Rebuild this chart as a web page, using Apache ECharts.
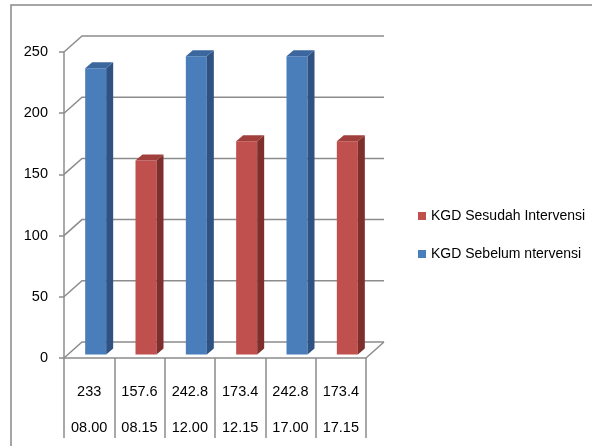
<!DOCTYPE html>
<html>
<head>
<meta charset="utf-8">
<script src="https://cdn.jsdelivr.net/npm/echarts@6/dist/echarts.min.js"></script>
<style>
  html, body { margin: 0; padding: 0; background: #fff; }
  #chart { width: 592px; height: 446px; }
</style>
</head>
<body>
<div id="chart"></div>
<script>
var times = ['08.00', '08.15', '12.00', '12.15', '17.00', '17.15'];
var sebelum = [233, null, 242.8, null, 242.8, null];
var sesudah = [null, 157.6, null, 173.4, null, 173.4];
var yTicks = [0, 50, 100, 150, 200, 250];

var FONT = '"Liberation Sans", Arial, sans-serif';
var DX = 18, DY = -16; // wall depth

var dom = document.getElementById('chart');
var myChart = echarts.init(dom);

function bar3d(front, side, top) {
    return function (params, api) {
        var v = api.value(1);
        if (v == null || isNaN(v)) return;
        var base = api.coord([api.value(0), 0]);
        var tp = api.coord([api.value(0), v]);
        var x0 = base[0] - 4, w = 21, bx = 7, by = -6;
        var yb = base[1] - 3.5, yt = tp[1] - 4.5;
        return {
            type: 'group',
            children: [
                {type: 'rect', shape: {x: x0, y: yt, width: w, height: yb - yt}, style: {fill: front}},
                {type: 'polygon', shape: {points: [[x0 + w, yt], [x0 + w + bx, yt + by], [x0 + w + bx, yb + by], [x0 + w, yb]]}, style: {fill: side}},
                {type: 'polygon', shape: {points: [[x0, yt], [x0 + bx, yt + by], [x0 + w + bx, yt + by], [x0 + w, yt]]}, style: {fill: top}}
            ]
        };
    };
}

function wall(params, api) {
    var cs = params.coordSys;
    var y = api.coord([0, api.value(0)])[1];
    var children = [{
        type: 'polyline',
        shape: {points: [[cs.x, y], [cs.x + DX, y + DY], [cs.x + cs.width + DX, y + DY]]},
        style: {stroke: '#8c8c8c', lineWidth: 1.5, fill: null}
    }];
    if (api.value(0) === 0) {
        children.push({
            type: 'line',
            shape: {x1: cs.x + cs.width, y1: y, x2: cs.x + cs.width + DX, y2: y + DY},
            style: {stroke: '#8c8c8c', lineWidth: 1.5}
        });
    }
    return {type: 'group', children: children};
}

var option = {
    backgroundColor: '#fff',
    animation: false,
    textStyle: {fontFamily: FONT},
    graphic: [{
        type: 'rect', z: 0, silent: true,
        shape: {x: 11, y: 5, width: 700, height: 600},
        style: {fill: null, stroke: '#888', lineWidth: 1.5}
    }],
    legend: {
        orient: 'vertical',
        left: 413,
        top: 202,
        icon: 'rect',
        itemWidth: 8,
        itemHeight: 8,
        itemGap: 20,
        textStyle: {fontFamily: FONT, fontSize: 14, color: '#000', lineHeight: 18},
        data: ['KGD Sesudah Intervensi', 'KGD Sebelum ntervensi']
    },
    grid: {left: 64, right: 226, top: 52, bottom: 88},
    xAxis: {
        type: 'category',
        data: times,
        boundaryGap: true,
        axisLine: {show: true, lineStyle: {color: '#8c8c8c', width: 1.5}},
        axisTick: {show: true, interval: 0, alignWithLabel: false, inside: false, length: 80, lineStyle: {color: '#8c8c8c', width: 1.5}},
        axisLabel: {
            interval: 0,
            margin: 16,
            fontFamily: FONT,
            fontSize: 14.5,
            color: '#000',
            lineHeight: 36,
            formatter: function (t, i) {
                var v = sebelum[i] != null ? sebelum[i] : sesudah[i];
                return v + '\n' + t;
            }
        }
    },
    yAxis: {
        type: 'value',
        min: 0,
        max: 250,
        interval: 50,
        axisLine: {show: true, lineStyle: {color: '#8c8c8c', width: 1.5}},
        axisTick: {show: true, length: 5, lineStyle: {color: '#8c8c8c', width: 1.5}},
        axisLabel: {margin: 16, fontFamily: FONT, fontSize: 14.5, color: '#000'},
        splitLine: {show: false}
    },
    series: [
        {
            name: 'wall',
            type: 'custom',
            silent: true,
            z: 1,
            renderItem: wall,
            data: yTicks.map(function (v) { return [v]; })
        },
        {
            name: 'KGD Sebelum ntervensi',
            type: 'custom',
            z: 3,
            itemStyle: {color: '#4a7ebb'},
            renderItem: bar3d('#4a7ebb', '#2f5283', '#3c679e'),
            data: sebelum.map(function (v, i) { return [i, v]; })
        },
        {
            name: 'KGD Sesudah Intervensi',
            type: 'custom',
            z: 3,
            itemStyle: {color: '#c0504d'},
            renderItem: bar3d('#c0504d', '#7e2f2d', '#a13f3c'),
            data: sesudah.map(function (v, i) { return [i, v]; })
        }
    ]
};

myChart.setOption(option);
</script>
</body>
</html>
